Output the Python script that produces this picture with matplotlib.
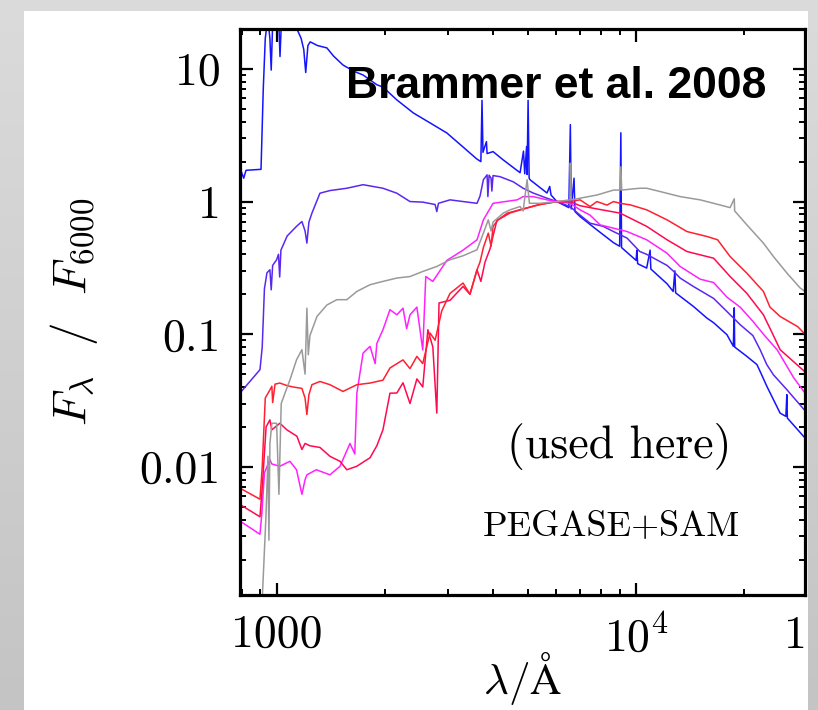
import numpy as np
import matplotlib
matplotlib.use("Agg")
import matplotlib.pyplot as plt
from matplotlib.colors import LinearSegmentedColormap
from matplotlib.patches import Rectangle

plt.rcParams["mathtext.fontset"] = "cm"
plt.rcParams["axes.unicode_minus"] = False

# Template SEDs, normalised to the flux at 6000 A
blue_wave = [791, 810, 822, 905, 918, 930, 945, 958, 966, 975, 1000, 1015, 1022, 1030, 1080, 1130,
             1170, 1190, 1205, 1222, 1240, 1300, 1380, 1440, 1530, 1640, 1740, 1900, 1976, 2160,
             2400, 2671, 2975, 3300, 3600, 3700, 3727, 3750, 3834, 3850, 4000, 4270, 4756, 4861,
             4900, 4959, 4975, 5007, 5040, 5070, 5650, 5750, 5800, 6020, 6500, 6563, 6600, 6720,
             6760, 6986, 7780, 8650, 9000, 9069, 9110, 10000, 10049, 10100, 10700, 10938, 10990,
             12190, 12680, 12818, 12880, 14430, 15750, 16430, 17900, 18640, 18751, 18800, 20330,
             21680, 22130, 23100, 25155, 26100, 26260, 26350, 29500]
blue_flux = [1.79, 1.50, 1.72, 1.75, 7.0, 17.0, 24.0, 17.0, 9.8, 22.0, 24.0, 21.0, 12.4, 21.0, 23.0, 21.0,
             17.0, 14.0, 9.4, 15.0, 16.0, 15.0, 14.4, 12.5, 10.7, 9.6, 9.0, 7.6, 7.3, 5.84,
             4.66, 3.92, 3.29, 2.58, 2.1, 2.0, 5.8, 2.35, 2.83, 2.3, 2.38, 2.06, 1.65, 2.4,
             1.62, 2.6, 1.6, 5.8, 1.5, 1.46, 1.16, 1.3, 1.12, 1.0, 0.9, 3.8, 0.88, 1.5,
             0.84, 0.77, 0.612, 0.49, 0.46, 3.3, 0.45, 0.36, 0.43, 0.34, 0.315, 0.43, 0.31,
             0.24, 0.21, 0.30, 0.205, 0.162, 0.132, 0.122, 0.099, 0.081, 0.158, 0.080, 0.068,
             0.059, 0.0524, 0.0405, 0.0254, 0.024, 0.035, 0.0233, 0.0165]

violet_wave = [791, 899, 912, 925, 940, 958, 966, 975, 1000, 1012, 1020, 1028, 1070, 1136, 1176,
               1200, 1214, 1230, 1254, 1320, 1407, 1568, 1740, 1976, 2160, 2350, 2550, 2760, 2790,
               2820, 3037, 3300, 3610, 3680, 3760, 3850, 3870, 3900, 3950, 3970, 4000, 4183, 4550,
               4850, 5170, 5650, 6020, 6550, 6986, 7447, 8100, 8650, 9440, 10240, 10700, 12190,
               12680, 13257, 14430, 16430, 17900, 19470, 21130, 22130, 23100, 24100, 26300, 29500]
violet_flux = [0.036, 0.054, 0.08, 0.22, 0.29, 0.306, 0.216, 0.33, 0.364, 0.40, 0.27, 0.43, 0.55, 0.65, 0.707,
               0.60, 0.486, 0.70, 0.818, 1.156, 1.21, 1.26, 1.34, 1.26, 1.156, 1.0, 0.99, 0.95, 0.84,
               0.97, 1.03, 1.0, 0.97, 1.1, 1.46, 1.59, 1.09, 1.58, 1.5, 1.2, 1.57, 1.54, 1.41,
               1.26, 1.16, 1.06, 1.0, 0.917, 0.79, 0.687, 0.65, 0.594, 0.53, 0.42, 0.40, 0.33,
               0.30, 0.265, 0.229, 0.186, 0.148, 0.118, 0.0976, 0.0764, 0.0589, 0.0494, 0.038, 0.0265]

magenta_wave = [791, 899, 910, 925, 958, 970, 1021, 1089, 1136, 1176, 1200, 1214, 1290, 1407, 1501,
                1600, 1650, 1672, 1740, 1819, 1880, 1900, 1976, 2067, 2160, 2247, 2300, 2350, 2456,
                2550, 2600, 2720, 2975, 3300, 3610, 3760, 4000, 4670, 4850, 5170, 5650, 6020, 6550,
                6986, 7447, 7940, 8650, 9440, 10700, 12190, 13257, 15066, 16430, 17900, 19470,
                21130, 22600, 24700, 27430, 29500]
magenta_flux = [0.0039, 0.0031, 0.0045, 0.009, 0.0113, 0.0105, 0.0101, 0.011, 0.0095, 0.0062, 0.008, 0.0087,
                0.0095, 0.0087, 0.0101, 0.015, 0.0125, 0.0359, 0.072, 0.081, 0.06, 0.085, 0.108, 0.153,
                0.14, 0.157, 0.11, 0.14, 0.16, 0.076, 0.272, 0.25, 0.36, 0.43, 0.515, 0.728, 0.97,
                1.03, 1.09, 1.09, 1.03, 1.0, 0.97, 0.866, 0.79, 0.667, 0.63, 0.594, 0.515, 0.408,
                0.324, 0.26, 0.245, 0.19, 0.16, 0.125, 0.10, 0.076, 0.047, 0.036]

red_wave = [791, 899, 912, 930, 958, 970, 975, 990, 1021, 1068, 1110, 1176, 1200, 1214, 1230, 1254,
            1320, 1407, 1530, 1672, 1819, 1976, 2067, 2247, 2350, 2456, 2550, 2671, 2760, 2880,
            3037, 3300, 3450, 3610, 3680, 3760, 3880, 3950, 4000, 4130, 4380, 4756, 5406, 6020,
            6550, 6986, 7447, 7780, 8300, 8650, 9027, 9640, 10700, 12190, 13850, 15750, 16850,
            18260, 20330, 22600, 23570, 25155, 28150, 29500]
red_flux = [0.0069, 0.0057, 0.010, 0.033, 0.038, 0.0405, 0.0305, 0.042, 0.0428, 0.041, 0.040, 0.039,
            0.033, 0.0248, 0.035, 0.0416, 0.044, 0.0416, 0.037, 0.0416, 0.0428, 0.045, 0.0556, 0.064,
            0.055, 0.068, 0.060, 0.102, 0.09, 0.15, 0.203, 0.243, 0.2, 0.306, 0.35, 0.45, 0.578,
            0.46, 0.65, 0.728, 0.818, 0.866, 0.95, 1.0, 1.0, 1.03, 0.917, 1.0, 0.94, 1.0, 0.97,
            0.944, 0.866, 0.728, 0.594, 0.545, 0.515, 0.385, 0.288, 0.21, 0.16, 0.136, 0.114, 0.10]

crimson_wave = [791, 899, 912, 935, 958, 970, 1021, 1068, 1139, 1176, 1200, 1238, 1320, 1407, 1501,
                1568, 1672, 1819, 1900, 1976, 2067, 2160, 2247, 2350, 2456, 2550, 2635, 2720, 2790,
                2830, 3037, 3300, 3450, 3610, 3700, 3800, 3924, 4000, 4100, 4460, 4756, 5300, 6020,
                6550, 6986, 7780, 9027, 10700, 12190, 13850, 16430, 18260, 20330, 22600, 24000,
                25155, 29500]
crimson_flux = [0.0052, 0.0042, 0.007, 0.02, 0.0226, 0.019, 0.0213, 0.019, 0.017, 0.0135, 0.015, 0.0144,
                0.014, 0.012, 0.011, 0.0095, 0.0101, 0.0117, 0.0144, 0.019, 0.0359, 0.036, 0.043,
                0.030, 0.046, 0.040, 0.108, 0.08, 0.0254, 0.172, 0.18, 0.229, 0.2, 0.306, 0.25, 0.35,
                0.44, 0.55, 0.72, 0.82, 0.866, 0.94, 1.0, 1.0, 0.93, 0.88, 0.818, 0.65, 0.515, 0.42,
                0.374, 0.272, 0.203, 0.14, 0.10, 0.0764, 0.052]

gray_wave = [912, 934, 946, 952, 958, 970, 1000, 1015, 1030, 1055, 1089, 1136, 1176, 1200, 1214, 1225,
             1238, 1295, 1380, 1471, 1568, 1672, 1819, 1976, 2160, 2350, 2550, 2790, 3037, 3300,
             3610, 3760, 3880, 3950, 4000, 4270, 4460, 4756, 4850, 4975, 5050, 5406, 6020, 6550,
             6563, 6600, 6986, 7780, 8650, 9027, 9069, 9120, 9640, 10240, 10700, 11660, 13257,
             15066, 16430, 18260, 18751, 18800, 20330, 22600, 24100, 26300, 28600, 29500]
gray_flux = [0.0010, 0.0042, 0.012, 0.0028, 0.015, 0.0213, 0.0213, 0.0062, 0.03, 0.0359, 0.0452, 0.064,
             0.0764, 0.05, 0.157, 0.07, 0.0976, 0.136, 0.166, 0.182, 0.182, 0.21, 0.236, 0.25, 0.265,
             0.272, 0.297, 0.324, 0.364, 0.39, 0.433, 0.578, 0.728, 0.6, 0.7, 0.818, 0.866, 0.917,
             0.85, 1.46, 0.97, 0.97, 1.0, 1.03, 1.95, 1.03, 1.06, 1.12, 1.22, 1.22, 1.83, 1.22,
             1.24, 1.26, 1.26, 1.19, 1.09, 1.03, 0.97, 0.9, 1.05, 0.85, 0.667, 0.486, 0.385,
             0.288, 0.223, 0.21]

x_ticks = [1000, 10000]
x_tick_labels = ["1000", r"$10^4$"]
y_ticks = [0.01, 0.1, 1, 10]
y_tick_labels = ["0.01", "0.1", "1", "10"]

W, H = 818, 710


def main():
    fig = plt.figure(figsize=(W / 100, H / 100), dpi=100)

    # slide background: grey gradient with a white panel
    bg = fig.add_axes([0, 0, 1, 1], zorder=-10)
    bg.axis("off")
    grad = np.linspace(0, 1, 256)[:, None]
    cmap = LinearSegmentedColormap.from_list("slide", ["#c4c4c4", "#dbdbdb"])
    bg.imshow(grad, cmap=cmap, aspect="auto", extent=[0, 1, 0, 1], origin="lower")
    bg.add_patch(Rectangle((24 / W, 0), (808 - 24) / W, (H - 11) / H,
                           transform=bg.transAxes, facecolor="white", edgecolor="none"))
    bg.set_xlim(0, 1)
    bg.set_ylim(0, 1)

    ax = fig.add_axes([240 / W, 1 - 595 / H, 565 / W, 566 / H])
    ax.set_xscale("log")
    ax.set_yscale("log")

    lw = 1.1
    ax.plot(blue_wave, blue_flux, color="#1414ff", lw=lw)
    ax.plot(violet_wave, violet_flux, color="#5a28f0", lw=lw)
    ax.plot(magenta_wave, magenta_flux, color="#ff22ff", lw=lw)
    ax.plot(crimson_wave, crimson_flux, color="#ff0a50", lw=lw)
    ax.plot(red_wave, red_flux, color="#ff2030", lw=lw)
    ax.plot(gray_wave, gray_flux, color="#9a9a9a", lw=lw)

    ax.set_xlim(791, 29500)
    ax.set_ylim(0.00108, 20.0)

    ax.set_xticks(x_ticks)
    ax.set_xticklabels(x_tick_labels)
    ax.set_yticks(y_ticks)
    ax.set_yticklabels(y_tick_labels)
    for lab in ax.get_xticklabels() + ax.get_yticklabels():
        lab.set_fontfamily("cmr10")
        lab.set_fontsize(33)

    ax.tick_params(which="both", direction="in", top=True, right=True, colors="black")
    ax.tick_params(which="major", length=9, width=1.6, pad=14)
    ax.tick_params(which="minor", length=4.5, width=1.4)
    ax.tick_params(axis="x", which="major", pad=14)
    for s in ax.spines.values():
        s.set_linewidth(2.3)

    ax.set_xlabel(r"$\lambda/\mathrm{\AA}$", fontsize=31, labelpad=-8)
    ax.set_ylabel(r"$F_\lambda\ \ /\ \ F_{6000}$", fontsize=34, labelpad=28)

    ax.text(0.56, 0.898, "Brammer et al. 2008", transform=ax.transAxes, ha="center", va="center",
            fontsize=32, fontweight="bold", family="Liberation Sans")
    ax.text(0.672, 0.262, "(used here)", transform=ax.transAxes, ha="center", va="center",
            fontsize=33, family="cmr10")
    ax.text(0.657, 0.12, "PEGASE+SAM", transform=ax.transAxes, ha="center", va="center",
            fontsize=26, family="cmr10")
    fig.text(795 / W, 1 - 636 / H, "1", ha="center", va="center", fontsize=33, family="cmr10")

    fig.savefig("out.png", dpi=100, facecolor="white")
    plt.close(fig)


if __name__ == "__main__":
    main()
